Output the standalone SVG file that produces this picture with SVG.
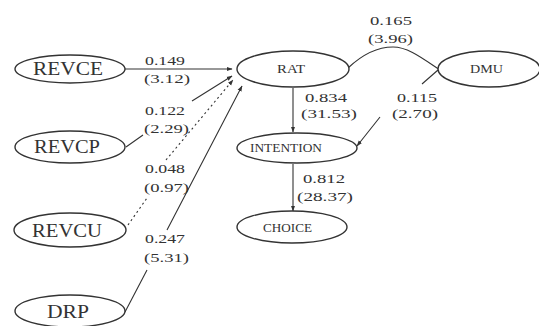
<svg xmlns="http://www.w3.org/2000/svg" width="539" height="326" viewBox="0 0 539 326">
  <defs>
    <marker id="arrow" viewBox="0 0 10 10" refX="9" refY="5" markerWidth="6" markerHeight="6" orient="auto" markerUnits="userSpaceOnUse">
      <path d="M0,1.5 L10,5 L0,8.5 Z" fill="#333"/>
    </marker>
  </defs>
  <style>
    .node ellipse { fill: #ffffff; stroke: #333333; stroke-width: 1.4; }
    .big { font-family: "Liberation Serif", "Times New Roman", serif; font-size: 18px; fill: #333; }
    .small { font-family: "Liberation Serif", "Times New Roman", serif; font-size: 12.5px; fill: #333; }
    .lbl { font-family: "Liberation Serif", "Times New Roman", serif; font-size: 13.5px; fill: #333; }
    .edge { fill: none; stroke: #333333; stroke-width: 1.1; }
    .dotted { stroke-dasharray: 2 3; }
  </style>
  <rect width="539" height="326" fill="#ffffff"/>

  <!-- connectors -->
  <g id="connectors">
    <path class="edge" d="M125,69 L232,69" marker-end="url(#arrow)"/>
    <path class="edge" d="M126,147 L143,135 M192,101 L232,76" marker-end="url(#arrow)"/>
    <path class="edge dotted" d="M128,225 L147,198 M166,160 L233,80" marker-end="url(#arrow)"/>
    <path class="edge" d="M125,312 L147,270 M167,230 L242,86" marker-end="url(#arrow)"/>
    <path class="edge" d="M348,68 C365,52 380,47 393,47 C408,47 422,58 440,70"/>
    <path class="edge" d="M293,88 L293,132" marker-end="url(#arrow)"/>
    <path class="edge" d="M293,164 L293,211" marker-end="url(#arrow)"/>
    <path class="edge" d="M438,70 L422,84 M380,117 L357,146" marker-end="url(#arrow)"/>

    <!-- path coefficients with t-values -->
    <text class="lbl" x="145" y="65" textLength="40" lengthAdjust="spacingAndGlyphs">0.149</text>
    <text class="lbl" x="144" y="83" textLength="46" lengthAdjust="spacingAndGlyphs">(3.12)</text>
    <text class="lbl" x="145" y="115" textLength="40" lengthAdjust="spacingAndGlyphs">0.122</text>
    <text class="lbl" x="144" y="133" textLength="45" lengthAdjust="spacingAndGlyphs">(2.29)</text>
    <text class="lbl" x="145" y="173" textLength="40" lengthAdjust="spacingAndGlyphs">0.048</text>
    <text class="lbl" x="144" y="192" textLength="45" lengthAdjust="spacingAndGlyphs">(0.97)</text>
    <text class="lbl" x="145" y="243" textLength="40" lengthAdjust="spacingAndGlyphs">0.247</text>
    <text class="lbl" x="144" y="262" textLength="45" lengthAdjust="spacingAndGlyphs">(5.31)</text>
    <text class="lbl" x="370" y="25" textLength="42" lengthAdjust="spacingAndGlyphs">0.165</text>
    <text class="lbl" x="368" y="43" textLength="45" lengthAdjust="spacingAndGlyphs">(3.96)</text>
    <text class="lbl" x="305" y="102" textLength="42" lengthAdjust="spacingAndGlyphs">0.834</text>
    <text class="lbl" x="301" y="118" textLength="56" lengthAdjust="spacingAndGlyphs">(31.53)</text>
    <text class="lbl" x="397" y="102" textLength="40" lengthAdjust="spacingAndGlyphs">0.115</text>
    <text class="lbl" x="392" y="118" textLength="46" lengthAdjust="spacingAndGlyphs">(2.70)</text>
    <text class="lbl" x="303" y="183" textLength="42" lengthAdjust="spacingAndGlyphs">0.812</text>
    <text class="lbl" x="297" y="201" textLength="56" lengthAdjust="spacingAndGlyphs">(28.37)</text>
  </g>

  <!-- nodes -->
  <g id="REVCE" class="node">
    <ellipse cx="70" cy="69" rx="55" ry="14"/>
    <text class="big" x="33" y="75" textLength="70" lengthAdjust="spacingAndGlyphs">REVCE</text>
  </g>
  <g id="REVCP" class="node">
    <ellipse cx="70" cy="147" rx="55" ry="16"/>
    <text class="big" x="34" y="153" textLength="66" lengthAdjust="spacingAndGlyphs">REVCP</text>
  </g>
  <g id="REVCU" class="node">
    <ellipse cx="70" cy="230" rx="56" ry="17"/>
    <text class="big" x="32" y="237" textLength="70" lengthAdjust="spacingAndGlyphs">REVCU</text>
  </g>
  <g id="DRP" class="node">
    <ellipse cx="70" cy="311" rx="55" ry="16"/>
    <text class="big" x="47" y="318" textLength="42" lengthAdjust="spacingAndGlyphs">DRP</text>
  </g>
  <g id="RAT" class="node">
    <ellipse cx="293" cy="69" rx="56" ry="18"/>
    <text class="small" x="277" y="73" textLength="28" lengthAdjust="spacingAndGlyphs">RAT</text>
  </g>
  <g id="DMU" class="node">
    <ellipse cx="489" cy="69" rx="51" ry="18"/>
    <text class="small" x="470" y="73" textLength="33" lengthAdjust="spacingAndGlyphs">DMU</text>
  </g>
  <g id="INTENTION" class="node">
    <ellipse cx="297" cy="148" rx="60" ry="15"/>
    <text class="small" x="250" y="152" textLength="72" lengthAdjust="spacingAndGlyphs">INTENTION</text>
  </g>
  <g id="CHOICE" class="node">
    <ellipse cx="292" cy="227" rx="55" ry="16"/>
    <text class="small" x="263" y="232" textLength="49" lengthAdjust="spacingAndGlyphs">CHOICE</text>
  </g>
</svg>
